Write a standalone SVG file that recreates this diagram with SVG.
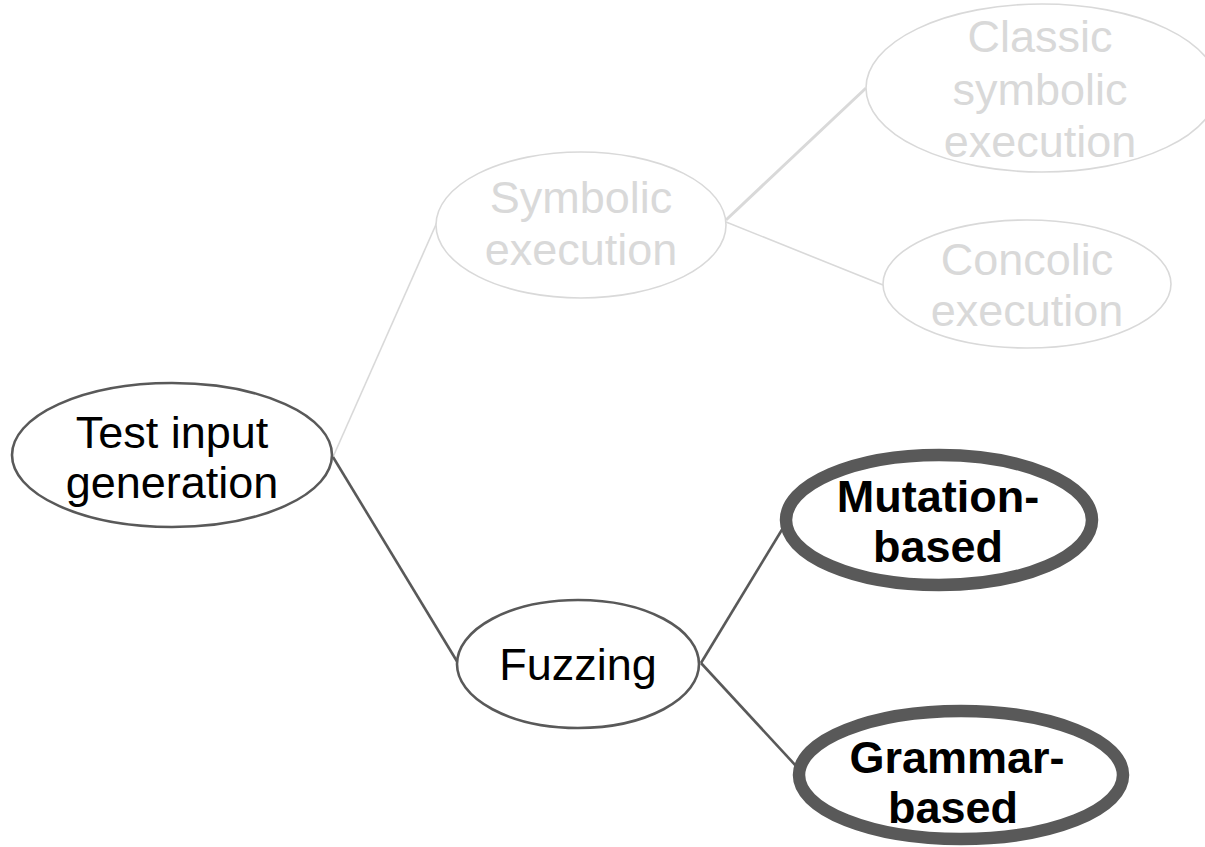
<svg xmlns="http://www.w3.org/2000/svg" width="1205" height="847" viewBox="0 0 1205 847">
  <style>
    .lbl { font-family: "Liberation Sans", Arial, sans-serif; font-size: 45px; text-anchor: middle; }
    .bold { font-weight: bold; font-size: 45px; }
    .dim-text { fill: #d9d9d9; }
    .dark-text { fill: #000000; }
    .dim-node { fill: #ffffff; stroke: #d9d9d9; stroke-width: 1.6; }
    .dark-node { fill: #ffffff; stroke: #595959; stroke-width: 2.6; }
    .heavy-node { fill: #ffffff; stroke: #595959; stroke-width: 12.5; }
    .dim-edge { stroke: #d9d9d9; stroke-width: 1.6; fill: none; }
    .dim-edge-thick { stroke: #d9d9d9; stroke-width: 3; fill: none; }
    .dark-edge { stroke: #595959; stroke-width: 2.6; fill: none; }
  </style>

  <rect width="1205" height="847" fill="#ffffff"/>

  <!-- connectors -->
  <g id="connectors">
    <line class="dim-edge" x1="333" y1="457" x2="438" y2="220"/>
    <line class="dark-edge" x1="333" y1="457" x2="458" y2="663"/>
    <line class="dim-edge-thick" x1="726" y1="220" x2="866" y2="88"/>
    <line class="dim-edge" x1="726" y1="222" x2="883" y2="285"/>
    <line class="dark-edge" x1="701" y1="663" x2="783" y2="528"/>
    <line class="dark-edge" x1="701" y1="663" x2="797" y2="767"/>
  </g>

  <!-- root -->
  <g id="node-test-input-generation">
    <ellipse class="dark-node" cx="172" cy="455" rx="160" ry="72"/>
    <text class="lbl dark-text" x="172" y="448">Test input</text>
    <text class="lbl dark-text" x="172" y="498">generation</text>
  </g>

  <g id="node-symbolic-execution">
    <ellipse class="dim-node" cx="581" cy="225" rx="145" ry="73"/>
    <text class="lbl dim-text" x="581" y="213">Symbolic</text>
    <text class="lbl dim-text" x="581" y="265">execution</text>
  </g>

  <g id="node-classic-symbolic-execution">
    <ellipse class="dim-node" cx="1042" cy="88" rx="176" ry="84"/>
    <text class="lbl dim-text" x="1040" y="52">Classic</text>
    <text class="lbl dim-text" x="1040" y="105">symbolic</text>
    <text class="lbl dim-text" x="1040" y="157">execution</text>
  </g>

  <g id="node-concolic-execution">
    <ellipse class="dim-node" cx="1027" cy="284" rx="144" ry="64"/>
    <text class="lbl dim-text" x="1027" y="275">Concolic</text>
    <text class="lbl dim-text" x="1027" y="326">execution</text>
  </g>

  <g id="node-fuzzing">
    <ellipse class="dark-node" cx="578" cy="664" rx="121" ry="64"/>
    <text class="lbl dark-text" x="578" y="680">Fuzzing</text>
  </g>

  <g id="node-mutation-based">
    <ellipse class="heavy-node" cx="939" cy="520" rx="153" ry="65"/>
    <text class="lbl bold dark-text" x="938" y="512">Mutation-</text>
    <text class="lbl bold dark-text" x="938" y="562">based</text>
  </g>

  <g id="node-grammar-based">
    <ellipse class="heavy-node" cx="961" cy="775" rx="162" ry="64"/>
    <text class="lbl bold dark-text" x="957" y="773">Grammar-</text>
    <text class="lbl bold dark-text" x="953" y="823">based</text>
  </g>
</svg>
